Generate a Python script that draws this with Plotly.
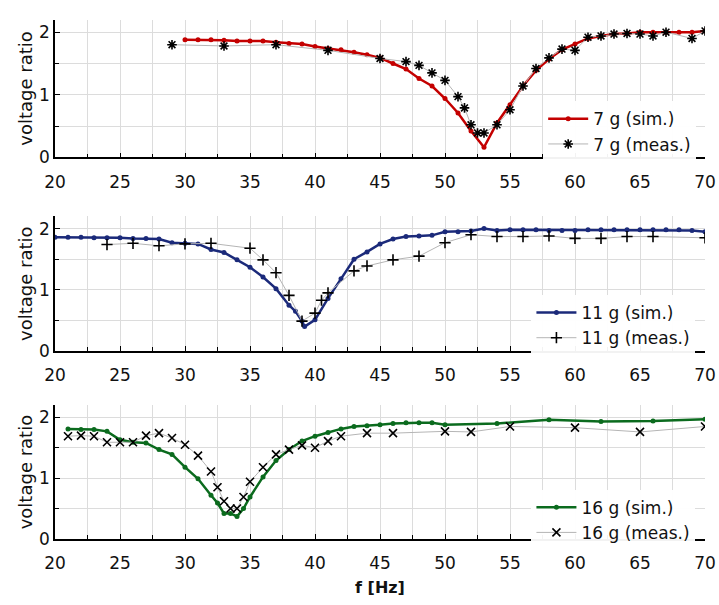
import plotly.graph_objects as go

# ---------------- data ----------------
f7_sim = list(range(30, 71))
v7_sim = [1.88, 1.88, 1.88, 1.87, 1.86, 1.86, 1.86, 1.84, 1.82, 1.81,
          1.77, 1.74, 1.72, 1.68, 1.64, 1.59, 1.50, 1.41, 1.26, 1.14,
          0.94, 0.71, 0.42, 0.16, 0.55, 0.84, 1.14, 1.39, 1.57, 1.72,
          1.81, 1.90, 1.94, 1.97, 1.98, 2.0, 2.0, 2.0, 2.0, 2.0, 2.02]
f7_meas = [29, 33, 37, 41, 45, 47, 48, 49, 50, 51, 51.5, 52, 52.5, 53, 54, 55, 56, 57,
           58, 59, 60, 61, 62, 63, 64, 65, 66, 67, 69, 70]
v7_meas = [1.80, 1.78, 1.80, 1.71, 1.58, 1.53, 1.47, 1.35, 1.23, 0.97, 0.79, 0.52, 0.39, 0.39,
           0.52, 0.76, 1.14, 1.42, 1.59, 1.73, 1.71, 1.92, 1.94, 1.97, 1.98, 1.97,
           1.94, 2.0, 1.90, 2.02]

f11_sim = [20, 21, 22, 23, 24, 25, 26, 27, 28, 29, 30, 31, 32, 33, 34, 35, 36, 37, 38, 38.5,
           39, 39.2, 40, 41, 42, 43, 44, 45, 46, 47, 48, 49, 50, 51, 52, 53, 54, 55, 56,
           57, 58, 59, 60, 61, 62, 63, 64, 65, 66, 67, 68, 69, 70]
v11_sim = [1.86, 1.86, 1.86, 1.85, 1.85, 1.85, 1.84, 1.84, 1.83, 1.77, 1.76, 1.75, 1.66, 1.61,
           1.49, 1.37, 1.21, 1.02, 0.75, 0.65, 0.49, 0.40, 0.51, 0.86, 1.18, 1.50, 1.62,
           1.75, 1.83, 1.87, 1.88, 1.89, 1.95, 1.95, 1.96, 2.0, 1.97, 1.98, 1.98, 1.98,
           1.97, 1.97, 1.97, 1.98, 1.98, 1.98, 1.98, 1.98, 1.98, 1.98, 1.98, 1.97, 1.95]
f11_meas = [24, 26, 28, 30, 32, 35, 36, 37, 38, 39, 40, 40.5, 41, 43, 44, 46, 48, 50, 52, 54,
            56, 58, 60, 62, 64, 66, 70]
v11_meas = [1.74, 1.76, 1.72, 1.75, 1.76, 1.68, 1.49, 1.28, 0.91, 0.49, 0.62, 0.83, 0.95, 1.31,
            1.39, 1.49, 1.55, 1.77, 1.90, 1.87, 1.87, 1.88, 1.84, 1.84, 1.87, 1.87, 1.85]

f16_sim = [21, 22, 23, 24, 25, 26, 27, 28, 29, 30, 31, 32, 32.5, 33, 33.5, 34, 34.5, 35, 36, 37,
           38, 39, 40, 41, 42, 43, 44, 45, 46, 47, 48, 49, 50, 54, 58, 62, 66, 70]
v16_sim = [1.81, 1.80, 1.80, 1.77, 1.63, 1.59, 1.58, 1.47, 1.39, 1.18, 0.99, 0.72, 0.59, 0.42,
           0.42, 0.37, 0.50, 0.69, 1.02, 1.29, 1.47, 1.61, 1.69, 1.75, 1.81, 1.85, 1.86,
           1.88, 1.90, 1.91, 1.91, 1.91, 1.88, 1.90, 1.96, 1.93, 1.94, 1.97]
f16_meas = [21, 22, 23, 24, 25, 26, 27, 28, 29, 30, 31, 32, 32.5, 33, 33.5, 34, 34.5, 35, 36,
            37, 38, 39, 40, 41, 42, 44, 46, 50, 52, 55, 60, 65, 70]
v16_meas = [1.69, 1.70, 1.69, 1.59, 1.59, 1.59, 1.70, 1.74, 1.66, 1.55, 1.37, 1.11, 0.85, 0.62,
            0.50, 0.50, 0.69, 0.94, 1.18, 1.39, 1.47, 1.54, 1.50, 1.61, 1.69, 1.74, 1.74,
            1.77, 1.76, 1.85, 1.83, 1.76, 1.85]

x_ticks = [20, 25, 30, 35, 40, 45, 50, 55, 60, 65, 70]
y_ticks = [0, 1, 2]

panels = [
    ("7 g", f7_sim, v7_sim, f7_meas, v7_meas, "#c40000", "asterisk-open", "legend"),
    ("11 g", f11_sim, v11_sim, f11_meas, v11_meas, "#1b2a7a", "cross-thin-open", "legend2"),
    ("16 g", f16_sim, v16_sim, f16_meas, v16_meas, "#0b6b1e", "x-thin-open", "legend3"),
]

W, H = 719, 605
domains = [(1 - 160 / H, 1 - 20 / H), (1 - 357 / H, 1 - 220 / H), (1 - 548 / H, 1 - 412 / H)]
legend_pos = [(540 / W, 1 - 103 / H), (527 / W, 1 - 300 / H), (527 / W, 1 - 498 / H)]

fig = go.Figure()
font_family = "DejaVu Sans, Verdana, sans-serif"

for i, (name, fs, vs, fm, vm, col, sym, leg) in enumerate(panels):
    ax = "" if i == 0 else str(i + 1)
    fig.add_trace(go.Scatter(
        x=fs, y=vs, mode="lines+markers", name=f"{name} (sim.)",
        line=dict(color=col, width=2.5), marker=dict(color=col, size=5),
        xaxis="x" + ax, yaxis="y" + ax, legend=leg))
    fig.add_trace(go.Scatter(
        x=fm, y=vm, mode="lines+markers", name=f"{name} (meas.)",
        line=dict(color="#b5b5b5", width=1),
        marker=dict(symbol=sym, color="black", size=8, line=dict(color="black", width=1.6)),
        xaxis="x" + ax, yaxis="y" + ax, legend=leg))

axis_font = dict(family=font_family, size=17, color="#111")
layout = dict(
    width=W, height=H,
    margin=dict(l=55, r=14, t=0, b=0),
    paper_bgcolor="white", plot_bgcolor="white",
    font=dict(family=font_family, color="#111"),
    showlegend=True,
)
for i in range(3):
    ax = "" if i == 0 else str(i + 1)
    layout["xaxis" + ax] = dict(
        domain=[0, 1], range=[20, 70], anchor="y" + ax,
        tickvals=x_ticks, ticktext=[str(t) for t in x_ticks],
        ticks="inside", ticklen=5, tickcolor="black", ticklabelstandoff=8,
        showline=True, linecolor="black", linewidth=1.5,
        showgrid=True, gridcolor="#dcdcdc", gridwidth=1,
        minor=dict(dtick=2.5, tick0=20, showgrid=True, gridcolor="#dcdcdc",
                   ticks="inside", ticklen=4, tickcolor="black"),
        tickfont=axis_font, zeroline=False,
        title=dict(text="<b>f [Hz]</b>", font=dict(family=font_family, size=16, color="#111"),
                   standoff=10) if i == 2 else None,
    )
    layout["yaxis" + ax] = dict(
        domain=list(domains[i]), range=[0, 2.2], anchor="x" + ax,
        tickvals=y_ticks, ticktext=[str(t) for t in y_ticks],
        ticks="inside", ticklen=5, tickcolor="black",
        showline=True, linecolor="black", linewidth=1.5,
        showgrid=True, gridcolor="#dcdcdc", gridwidth=1,
        minor=dict(dtick=0.5, tick0=0, showgrid=True, gridcolor="#dcdcdc",
                   ticks="inside", ticklen=4, tickcolor="black"),
        tickfont=axis_font, zeroline=False,
        title=dict(text="voltage ratio", font=dict(family=font_family, size=18, color="#111"),
                   standoff=2),
    )
    leg = "legend" if i == 0 else f"legend{i + 1}"
    layout[leg] = dict(
        x=legend_pos[i][0], y=legend_pos[i][1], xanchor="left", yanchor="top",
        bgcolor="rgba(255,255,255,0.95)", borderwidth=0,
        font=dict(family=font_family, size=17, color="#111"),
        tracegroupgap=0, itemwidth=40,
    )

fig.update_layout(**layout)
fig.write_html("out.html")
